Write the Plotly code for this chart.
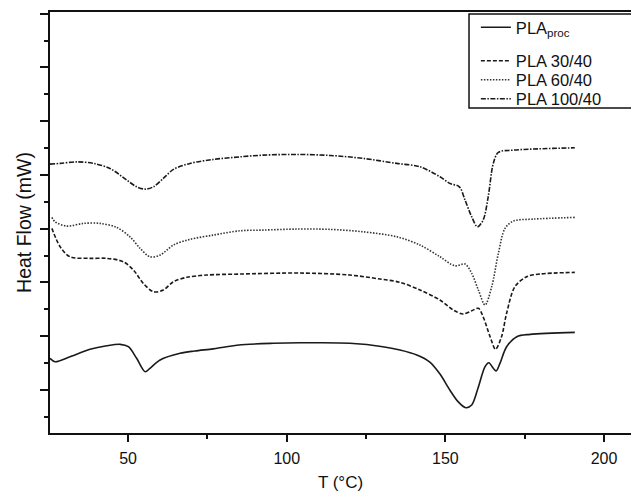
import plotly.graph_objects as go

# PLA_proc (solid)
T_proc = [25.4, 27.0, 31.7, 38.0, 43.3, 47.5, 50.1, 52.7, 55.4, 56.9, 60.1, 66.4, 71.0, 76.8, 81.0,
          87.0, 95.7, 104.2, 109.5, 119.9, 130.3, 135.7, 141.0, 145.1, 148.3, 151.4, 154.0, 156.4,
          158.3, 160.3, 162.5, 163.7, 165.1, 166.0, 167.2, 169.3, 172.5, 176.7, 190.8]
HF_proc = [0.589, 0.526, 0.619, 0.757, 0.823, 0.849, 0.805, 0.589, 0.340, 0.403, 0.558, 0.682,
           0.725, 0.765, 0.805, 0.845, 0.868, 0.879, 0.879, 0.868, 0.805, 0.743, 0.651, 0.520,
           0.297, 0.0, -0.217, -0.329, -0.279, 0.037, 0.433, 0.507, 0.403, 0.353, 0.496, 0.805,
           0.991, 1.035, 1.072]

# PLA 30/40 (dashed)
T_30 = [26.0, 28.6, 31.7, 38.0, 43.3, 48.5, 51.7, 54.8, 58.0, 61.1, 64.3, 68.5, 74.8, 85.3,
        104.2, 119.9, 129.4, 135.7, 142.0, 148.3, 152.5, 155.6, 158.3, 160.4, 161.9, 164.1,
        165.8, 167.7, 169.3, 171.9, 175.6, 179.8, 190.8]
HF_30 = [3.006, 2.664, 2.478, 2.448, 2.448, 2.385, 2.230, 1.983, 1.827, 1.859, 2.013, 2.095,
         2.138, 2.156, 2.175, 2.138, 2.063, 2.002, 1.859, 1.673, 1.487, 1.413, 1.474, 1.519,
         1.362, 0.991, 0.757, 0.991, 1.426, 1.920, 2.106, 2.156, 2.188]

# PLA 60/40 (dotted)
T_60 = [26.0, 27.0, 30.7, 35.9, 41.2, 46.4, 50.6, 53.8, 56.9, 60.1, 64.3, 69.5, 76.9, 85.3,
        92.6, 103.2, 113.6, 124.1, 134.7, 142.0, 148.3, 153.0, 156.2, 158.3, 160.4, 162.5,
        164.6, 166.7, 168.8, 171.4, 177.7, 190.8]
HF_60 = [3.210, 3.128, 3.048, 3.098, 3.098, 3.024, 2.849, 2.634, 2.478, 2.509, 2.695, 2.801,
         2.881, 2.961, 2.974, 2.993, 2.987, 2.942, 2.849, 2.695, 2.478, 2.310, 2.342, 2.169,
         1.859, 1.580, 1.920, 2.541, 3.006, 3.141, 3.178, 3.210]

# PLA 100/40 (dash-dot)
T_100 = [25.4, 28.6, 33.8, 39.1, 44.3, 49.6, 52.7, 55.4, 58.0, 61.1, 64.3, 69.5, 76.9, 85.3,
         92.6, 103.2, 113.6, 124.1, 134.7, 142.0, 148.3, 151.4, 154.4, 156.2, 158.3, 160.1,
         161.9, 163.5, 165.1, 166.7, 171.4, 190.8]
HF_100 = [4.201, 4.214, 4.243, 4.214, 4.121, 3.903, 3.779, 3.736, 3.779, 3.935, 4.102, 4.214,
          4.288, 4.336, 4.368, 4.381, 4.362, 4.307, 4.214, 4.151, 3.965, 3.842, 3.779, 3.532,
          3.221, 3.035, 3.160, 3.593, 4.214, 4.418, 4.461, 4.504]

x_ticks = [50, 100, 150, 200]
x_tick_labels = ["50", "100", "150", "200"]

series_names = ["PLA<sub>proc</sub>", "PLA 30/40", "PLA 60/40", "PLA 100/40"]
series_T = [T_proc, T_30, T_60, T_100]
series_HF = [HF_proc, HF_30, HF_60, HF_100]
series_dash = ["solid", "4px,2px", "1.5px,1.5px", "5px,1.5px,1.5px,1.5px"]
series_color = ["#1a1a1a", "#1a1a1a", "#333333", "#1a1a1a"]

# legend row centres (paper y) — one legend per entry so rows can sit as in the reference
legend_ids = ["legend", "legend2", "legend3", "legend4"]
legend_rows = [0.963, 0.8836, 0.8385, 0.7933]

fig = go.Figure()
for i in range(4):
    fig.add_trace(go.Scatter(
        x=series_T[i], y=series_HF[i], name=series_names[i], mode="lines",
        legend=legend_ids[i],
        line=dict(color=series_color[i], width=1.6, dash=series_dash[i],
                  shape="spline", smoothing=0.9),
    ))

font_family = "Liberation Sans, Arial, sans-serif"

legend_common = dict(
    x=0.733, xanchor="left", yanchor="middle",
    bgcolor="rgba(0,0,0,0)", borderwidth=0,
    font=dict(size=16.5, color="#111", family=font_family),
)
layout_legends = {}
for lid, ry in zip(legend_ids, legend_rows):
    layout_legends[lid] = dict(legend_common, y=ry)

fig.update_layout(
    width=631, height=493,
    margin=dict(l=50, r=0, t=12, b=60, autoexpand=False),
    paper_bgcolor="white", plot_bgcolor="white",
    font=dict(family=font_family, size=16, color="#111"),
    showlegend=True,
    **layout_legends,
    shapes=[dict(type="rect", xref="paper", yref="paper",
                 x0=0.7212, x1=1.2, y0=0.772, y1=0.9952,
                 line=dict(color="#111", width=1.5), fillcolor="rgba(0,0,0,0)", layer="above")],
    xaxis=dict(
        range=[25.4, 208.5], showgrid=False, zeroline=False,
        showline=True, linecolor="#111", linewidth=2, mirror=True,
        tickmode="array", tickvals=x_ticks, ticktext=x_tick_labels,
        ticks="outside", ticklen=7, tickwidth=1.5, tickcolor="#111",
        minor=dict(dtick=25, tick0=25, ticks="outside", ticklen=4, tickwidth=1.5, tickcolor="#111"),
        tickfont=dict(size=16), ticklabelstandoff=3,
        title=dict(text="T (°C)", font=dict(size=17), standoff=10),
    ),
    yaxis=dict(
        range=[-0.8, 7.03], showgrid=False, zeroline=False,
        showline=True, linecolor="#111", linewidth=2,
        dtick=1, tick0=0, showticklabels=False,
        ticks="outside", ticklen=8, tickwidth=1.5, tickcolor="#111",
        minor=dict(dtick=1, tick0=0.5, ticks="outside", ticklen=4, tickwidth=1.5, tickcolor="#111"),
        title=dict(text="Heat Flow (mW)", font=dict(size=19.5), standoff=3),
    ),
)

fig.write_html("out.html")
